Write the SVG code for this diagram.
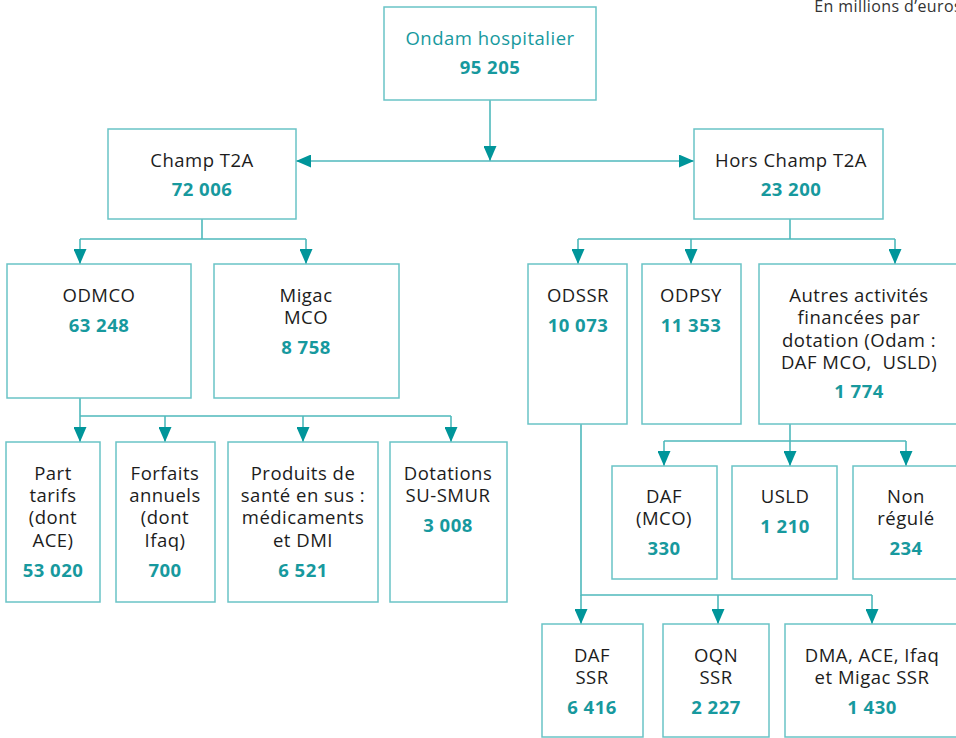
<svg xmlns="http://www.w3.org/2000/svg" width="956" height="738" viewBox="0 0 956 738">
<style>
  .box { fill: #ffffff; stroke: #6ac3c6; stroke-width: 1.5; }
  .lbl { font-family: "Open Sans", "Noto Sans", sans-serif; font-size: 18.5px; fill: #1c1c1c; text-anchor: middle; letter-spacing: 0.5px; }
  .num { font-family: "Open Sans", "Noto Sans", sans-serif; font-size: 18.5px; font-weight: bold; fill: #17999e; text-anchor: middle; letter-spacing: 0.5px; }
  .ttl { font-family: "Open Sans", "Noto Sans", sans-serif; font-size: 18.5px; fill: #17999e; text-anchor: middle; letter-spacing: 0.5px; }
  .note { font-family: "Open Sans", "Noto Sans", sans-serif; font-size: 16px; fill: #333333; text-anchor: end; letter-spacing: 0.4px; }
  .ln { fill: none; stroke: #4fb9bc; stroke-width: 1.6; }
  .ar { fill: none; stroke: #4fb9bc; stroke-width: 1.6; marker-end: url(#ah); }
</style>
<defs>
  <marker id="ah" markerUnits="userSpaceOnUse" markerWidth="16" markerHeight="13" refX="15" refY="6.5" orient="auto-start-reverse" viewBox="0 0 16 13">
    <path d="M0,0 L15,6.5 L0,13 z" fill="#00959a"/>
  </marker>
</defs>
<rect width="956" height="738" fill="#ffffff"/>
<text class="note" x="962" y="12">En millions d’euros</text>

<g id="connectors">
  <path class="ar" d="M490,100 V161"/>
  <path class="ln" d="M296,161 H694" marker-start="url(#ah)" marker-end="url(#ah)"/>
  <path class="ln" d="M202,219 V239 M80,239 H306 M790,219 V239 M578,239 H895"/>
  <path class="ar" d="M80,239 V264"/>
  <path class="ar" d="M306,239 V264"/>
  <path class="ar" d="M578,239 V264"/>
  <path class="ar" d="M691,239 V264"/>
  <path class="ar" d="M895,239 V264"/>
  <path class="ln" d="M80,398 V416 M80,416 H451"/>
  <path class="ar" d="M80,416 V442"/>
  <path class="ar" d="M165,416 V442"/>
  <path class="ar" d="M303,416 V442"/>
  <path class="ar" d="M451,416 V442"/>
  <path class="ln" d="M790,424 V441 M664,441 H906"/>
  <path class="ar" d="M664,441 V466"/>
  <path class="ar" d="M790,441 V466"/>
  <path class="ar" d="M906,441 V466"/>
  <path class="ln" d="M581,424 V595 H872"/>
  <path class="ar" d="M581,595 V624"/>
  <path class="ar" d="M718,595 V624"/>
  <path class="ar" d="M872,595 V624"/>
</g>

<g id="ondam">
  <rect class="box" x="384" y="7" width="212" height="93"/>
  <text class="ttl" x="490" y="45">Ondam hospitalier</text>
  <text class="num" x="490" y="74">95 205</text>
</g>
<g id="champ">
  <rect class="box" x="108" y="129" width="188" height="90"/>
  <text class="lbl" x="202" y="167">Champ T2A</text>
  <text class="num" x="202" y="196">72 006</text>
</g>
<g id="hors">
  <rect class="box" x="694" y="129" width="189" height="90"/>
  <text class="lbl" x="791" y="167">Hors Champ T2A</text>
  <text class="num" x="791" y="196">23 200</text>
</g>
<g id="odmco">
  <rect class="box" x="7" y="264" width="184" height="134"/>
  <text class="lbl" x="99" y="302">ODMCO</text>
  <text class="num" x="99" y="332">63 248</text>
</g>
<g id="migac">
  <rect class="box" x="214" y="264" width="185" height="134"/>
  <text class="lbl" x="306" y="302">Migac</text>
  <text class="lbl" x="306" y="324">MCO</text>
  <text class="num" x="306" y="354">8 758</text>
</g>
<g id="odssr">
  <rect class="box" x="528" y="264" width="99" height="160"/>
  <text class="lbl" x="578" y="302">ODSSR</text>
  <text class="num" x="578" y="332">10 073</text>
</g>
<g id="odpsy">
  <rect class="box" x="642" y="264" width="99" height="160"/>
  <text class="lbl" x="691" y="302">ODPSY</text>
  <text class="num" x="691" y="332">11 353</text>
</g>
<g id="autres">
  <rect class="box" x="759" y="264" width="200" height="160"/>
  <text class="lbl" x="859" y="302">Autres activités</text>
  <text class="lbl" x="859" y="324">financées par</text>
  <text class="lbl" x="859" y="347">dotation (Odam :</text>
  <text class="lbl" x="859" y="369" xml:space="preserve">DAF MCO,  USLD)</text>
  <text class="num" x="859" y="398">1 774</text>
</g>
<g id="part">
  <rect class="box" x="6" y="442" width="94" height="160"/>
  <text class="lbl" x="53" y="480">Part</text>
  <text class="lbl" x="53" y="502">tarifs</text>
  <text class="lbl" x="53" y="524">(dont</text>
  <text class="lbl" x="53" y="547">ACE)</text>
  <text class="num" x="53" y="577">53 020</text>
</g>
<g id="forfaits">
  <rect class="box" x="116" y="442" width="99" height="160"/>
  <text class="lbl" x="165" y="480">Forfaits</text>
  <text class="lbl" x="165" y="502">annuels</text>
  <text class="lbl" x="165" y="524">(dont</text>
  <text class="lbl" x="165" y="547">Ifaq)</text>
  <text class="num" x="165" y="577">700</text>
</g>
<g id="produits">
  <rect class="box" x="228" y="442" width="150" height="160"/>
  <text class="lbl" x="303" y="480">Produits de</text>
  <text class="lbl" x="303" y="502">santé en sus :</text>
  <text class="lbl" x="303" y="524">médicaments</text>
  <text class="lbl" x="303" y="547">et DMI</text>
  <text class="num" x="303" y="577">6 521</text>
</g>
<g id="dotations">
  <rect class="box" x="390" y="442" width="117" height="160"/>
  <text class="lbl" x="448" y="480">Dotations</text>
  <text class="lbl" x="448" y="502">SU-SMUR</text>
  <text class="num" x="448" y="532">3 008</text>
</g>
<g id="dafmco">
  <rect class="box" x="612" y="466" width="105" height="113"/>
  <text class="lbl" x="664" y="503">DAF</text>
  <text class="lbl" x="664" y="525">(MCO)</text>
  <text class="num" x="664" y="555">330</text>
</g>
<g id="usld">
  <rect class="box" x="732" y="466" width="105" height="113"/>
  <text class="lbl" x="785" y="503">USLD</text>
  <text class="num" x="785" y="533">1 210</text>
</g>
<g id="nonregule">
  <rect class="box" x="853" y="466" width="106" height="113"/>
  <text class="lbl" x="906" y="503">Non</text>
  <text class="lbl" x="906" y="525">régulé</text>
  <text class="num" x="906" y="555">234</text>
</g>
<g id="dafssr">
  <rect class="box" x="542" y="624" width="101" height="113"/>
  <text class="lbl" x="592" y="662">DAF</text>
  <text class="lbl" x="592" y="684">SSR</text>
  <text class="num" x="592" y="714">6 416</text>
</g>
<g id="oqn">
  <rect class="box" x="663" y="624" width="106" height="113"/>
  <text class="lbl" x="716" y="662">OQN</text>
  <text class="lbl" x="716" y="684">SSR</text>
  <text class="num" x="716" y="714">2 227</text>
</g>
<g id="dma">
  <rect class="box" x="785" y="624" width="174" height="113"/>
  <text class="lbl" x="872" y="662">DMA, ACE, Ifaq</text>
  <text class="lbl" x="872" y="684">et Migac SSR</text>
  <text class="num" x="872" y="714">1 430</text>
</g>
</svg>
